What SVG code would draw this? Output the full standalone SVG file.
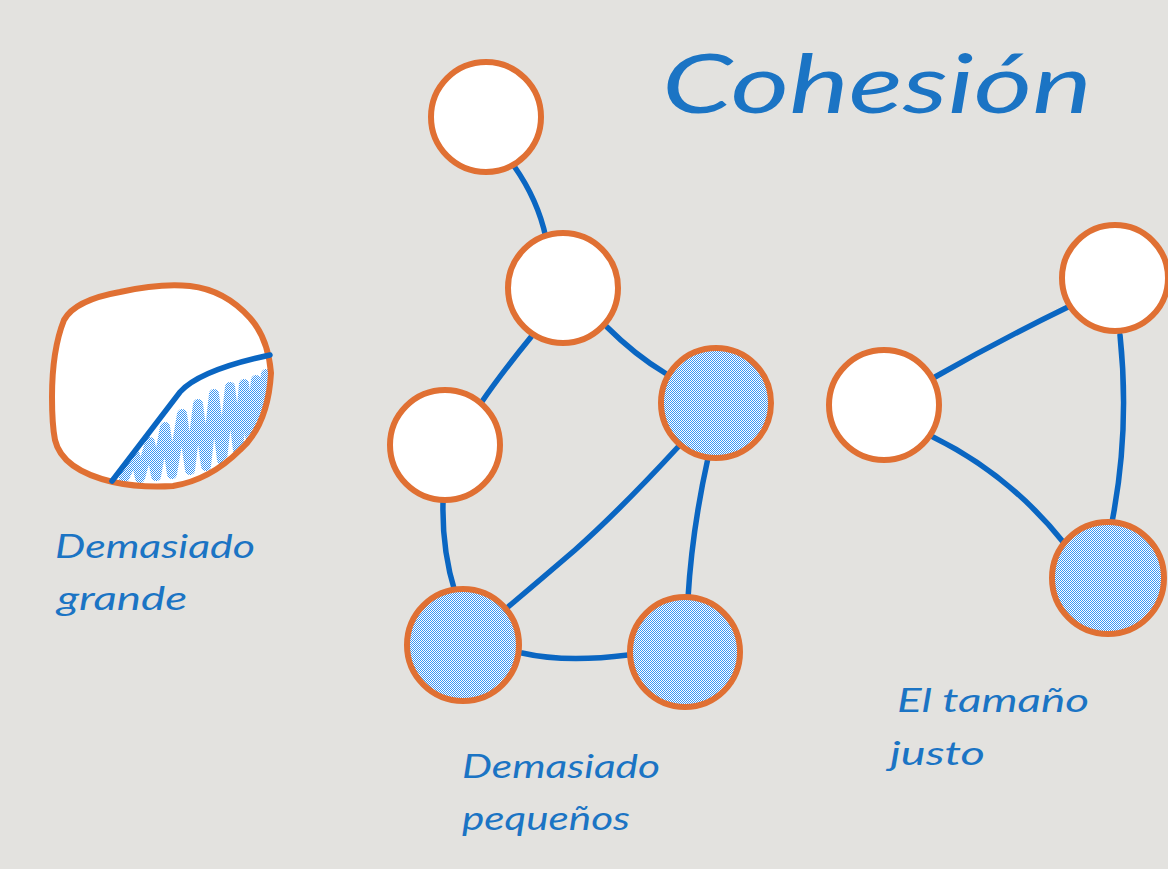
<svg xmlns="http://www.w3.org/2000/svg" width="1168" height="869" viewBox="0 0 1168 869">
<defs>
<pattern id="hatch" width="2" height="2" patternUnits="userSpaceOnUse">
<rect width="2" height="2" fill="#ffffff"/>
<rect width="1" height="1" fill="#3a96f5"/>
<rect x="1" y="1" width="1" height="1" fill="#3a96f5"/>
</pattern>
<clipPath id="blobclip">
<path d="M112,481 L180,392 Q200,370 270,355 L272,380 Q268,425 240,450 Q210,480 173,486 Q140,488 113,482 Z"/>
</clipPath>
<path id="blobshape" d="M55,440 Q62,470 113,482 Q140,488 173,486 Q210,480 240,450 Q268,425 271,373 Q268,338 250,318 Q225,290 190,286 Q160,283 120,292 Q75,300 64,320 Q52,350 52,397 Q52,425 55,440 Z"/>
<style>
.node{stroke:#e07033;stroke-width:6}
.plain{fill:#ffffff}
.hat{fill:url(#hatch)}
.edge{fill:none;stroke:#0a66c2;stroke-width:5.5;stroke-linecap:round}
.lbl{font-family:"Lato","Noto Sans",sans-serif;font-style:italic;fill:#1b74c4}
</style>
</defs>
<rect width="1168" height="869" fill="#e3e2df"/>

<g id="title"><text class="lbl" x="662" y="113" font-size="82" textLength="430" lengthAdjust="spacingAndGlyphs">Cohesión</text></g>

<g id="connectors">
<path class="edge" d="M514,166 Q538,200 546,238"/>
<path class="edge" d="M531,337 Q500,375 481,403"/>
<path class="edge" d="M607,327 Q635,355 665,373"/>
<path class="edge" d="M678,447 Q620,510 575,550 Q540,580 508,607"/>
<path class="edge" d="M708,458 Q692,530 688,598"/>
<path class="edge" d="M443,503 Q442,550 455,592"/>
<path class="edge" d="M522,653 Q565,663 628,655"/>
<path class="edge" d="M935,377 Q1000,340 1068,307"/>
<path class="edge" d="M1120,335 Q1130,430 1112,522"/>
<path class="edge" d="M933,437 Q1010,475 1064,543"/>
</g>

<g id="blob">
<use href="#blobshape" fill="#ffffff"/>
<g clip-path="url(#blobclip)">
<path d="M124,478 L135,455 L140,478 L150,442 L156,476 L165,427 L172,474 L182,414 L190,470 L198,404 L206,466 L214,394 L222,460 L230,387 L238,450 L244,384 L250,436 L256,380 L260,418 L266,374 L266,398" fill="none" stroke="url(#hatch)" stroke-width="10" stroke-linejoin="round" stroke-linecap="round"/>
</g>
<use href="#blobshape" fill="none" stroke="#e07033" stroke-width="6"/>
<path d="M112,481 L180,392 Q200,370 270,355" fill="none" stroke="#0a66c2" stroke-width="5.5" stroke-linecap="round"/>
</g>

<g id="n1"><circle class="node plain" cx="486" cy="117" r="55"/></g>
<g id="n2"><circle class="node plain" cx="563" cy="288" r="55"/></g>
<g id="n3"><circle class="node plain" cx="445" cy="445" r="55"/></g>
<g id="n4"><circle class="node hat" cx="716" cy="403" r="55"/></g>
<g id="n5"><circle class="node hat" cx="463" cy="645" r="56"/></g>
<g id="n6"><circle class="node hat" cx="685" cy="652" r="55"/></g>
<g id="n7"><circle class="node plain" cx="884" cy="405" r="55"/></g>
<g id="n8"><circle class="node plain" cx="1115" cy="278" r="53"/></g>
<g id="n9"><circle class="node hat" cx="1108" cy="578" r="56"/></g>

<g id="label-grande">
<text class="lbl" x="55" y="558" font-size="32" textLength="200" lengthAdjust="spacingAndGlyphs">Demasiado</text>
<text class="lbl" x="57" y="610" font-size="32" textLength="130" lengthAdjust="spacingAndGlyphs">grande</text>
</g>
<g id="label-pequenos">
<text class="lbl" x="462" y="778" font-size="32" textLength="198" lengthAdjust="spacingAndGlyphs">Demasiado</text>
<text class="lbl" x="462" y="830" font-size="32" textLength="168" lengthAdjust="spacingAndGlyphs">pequeños</text>
</g>
<g id="label-justo">
<text class="lbl" x="897" y="712" font-size="32" textLength="192" lengthAdjust="spacingAndGlyphs">El tamaño</text>
<text class="lbl" x="890" y="765" font-size="32" textLength="95" lengthAdjust="spacingAndGlyphs">justo</text>
</g>
</svg>
